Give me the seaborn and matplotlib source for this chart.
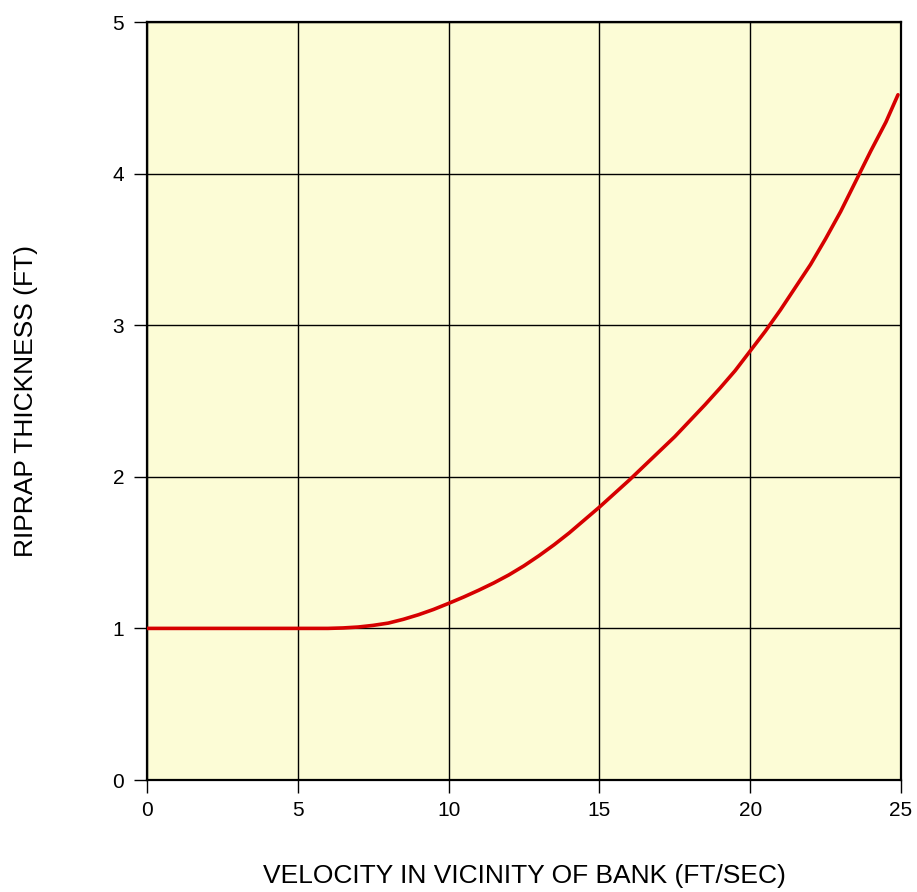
import matplotlib
matplotlib.use("Agg")
import matplotlib.pyplot as plt
import seaborn as sns
import pandas as pd

# Riprap thickness design curve (velocity in ft/s, thickness in ft)
velocity = [0, 1, 2, 3, 4, 5, 6, 6.5, 7, 7.5, 8, 8.5, 9, 9.5, 10, 10.5, 11, 11.5,
            12, 12.5, 13, 13.5, 14, 14.5, 15, 15.5, 16, 16.5, 17, 17.5, 18, 18.5,
            19, 19.5, 20, 20.5, 21, 21.5, 22, 22.5, 23, 23.5, 24, 24.5, 24.9]
thickness = [1.0, 1.0, 1.0, 1.0, 1.0, 1.0, 1.0, 1.003, 1.009, 1.02, 1.035, 1.06,
             1.09, 1.125, 1.165, 1.207, 1.252, 1.30, 1.353, 1.413, 1.48, 1.552,
             1.63, 1.715, 1.80, 1.89, 1.98, 2.075, 2.17, 2.265, 2.37, 2.475, 2.585,
             2.70, 2.83, 2.96, 3.10, 3.25, 3.40, 3.57, 3.75, 3.95, 4.15, 4.34, 4.52]
x_ticks = [0, 5, 10, 15, 20, 25]
y_ticks = [0, 1, 2, 3, 4, 5]

df = pd.DataFrame({"velocity": velocity, "thickness": thickness})

sns.set_theme(style="white")
plt.rcParams["font.family"] = ["Liberation Sans", "DejaVu Sans"]
plt.rcParams["text.color"] = "black"
plt.rcParams["axes.labelcolor"] = "black"
plt.rcParams["xtick.color"] = "black"
plt.rcParams["ytick.color"] = "black"

fig = plt.figure(figsize=(9.17, 8.92), dpi=100)
ax = fig.add_axes([147 / 917, 112 / 892, 754 / 917, 758 / 892])
ax.set_facecolor("#FCFCD6")

sns.lineplot(data=df, x="velocity", y="thickness", ax=ax, color="#D60000",
             linewidth=2.6, zorder=3)

ax.set_xlim(0, 25)
ax.set_ylim(0, 5)
ax.set_xticks(x_ticks)
ax.set_yticks(y_ticks)
ax.grid(True, color="black", linewidth=1.0, zorder=1)
ax.set_axisbelow(True)
for s in ax.spines.values():
    s.set_color("black")
    s.set_linewidth(1.6)

ax.tick_params(axis="both", direction="out", length=9.4, width=1.0, color="black",
               labelsize=15, labelcolor="black", bottom=True, left=True)
ax.tick_params(axis="x", pad=6)
ax.tick_params(axis="y", pad=7)

ax.set_xlabel("VELOCITY IN VICINITY OF BANK (FT/SEC)", fontsize=19, va="center")
ax.set_ylabel("RIPRAP THICKNESS (FT)", fontsize=19, va="center")
ax.xaxis.set_label_coords(0.5, (780 - 876) / 758)
ax.yaxis.set_label_coords((26 - 147) / 754, 0.5)

fig.savefig("out.png", dpi=100, facecolor="white")
